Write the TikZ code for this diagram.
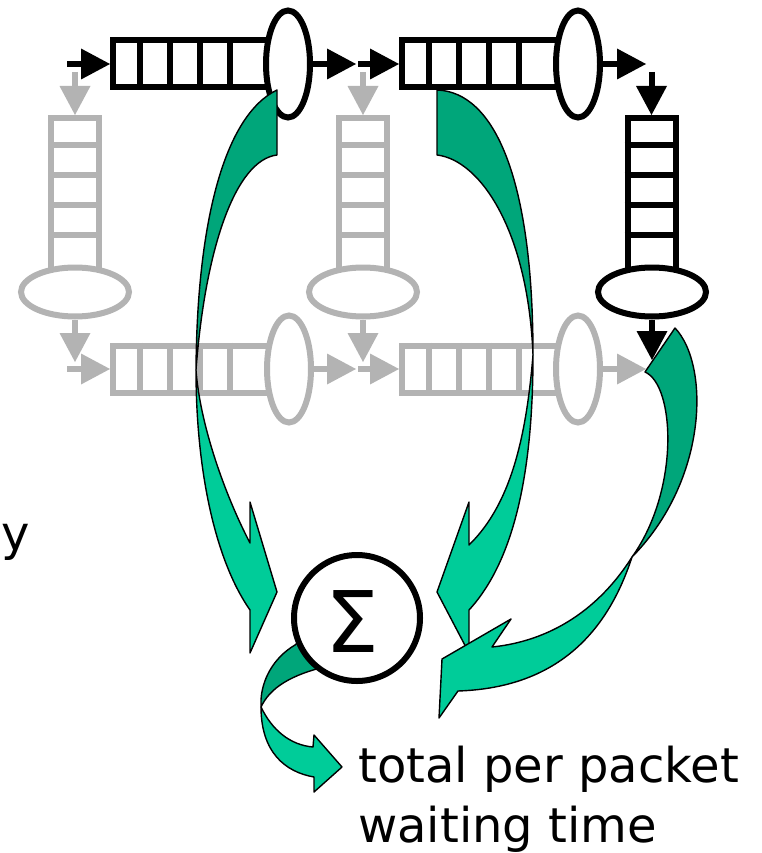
\documentclass[tikz,border=0pt]{standalone}
\usepackage{fontspec}
\setmainfont{DejaVu Sans}
\usetikzlibrary{arrows.meta,shapes.geometric}

\definecolor{qgray}{RGB}{179,179,179}
\definecolor{gdarkc}{RGB}{0,166,122}
\definecolor{glightc}{RGB}{0,204,153}

\tikzset{
  qbox/.style={draw, line width=6pt, inner sep=0pt, fill=white},
  hqueue/.style={qbox, minimum width=157pt, minimum height=47pt},
  vqueue/.style={qbox, minimum width=48pt, minimum height=157pt},
  hserver/.style={qbox, ellipse, minimum width=44pt, minimum height=107pt},
  vserver/.style={qbox, ellipse, minimum width=108pt, minimum height=49pt},
  flow/.style={line width=6pt, -{Triangle[length=29pt,width=31pt,line width=0pt]}},
  ribbon/.style={draw=black, line width=1.4pt, line join=round},
  gdark/.style={ribbon, fill=gdarkc},
  glight/.style={ribbon, fill=glightc},
  label/.style={inner sep=0pt, font=\fontsize{48}{60}\selectfont},
}

% cell dividers of a horizontal / vertical queue
\newcommand\hcells[2]{\foreach \i in {1,...,4}
  \draw[line width=6pt,#2] ([xshift=\i*30pt]#1.north west) -- ([xshift=\i*30pt]#1.south west);}
\newcommand\vcells[2]{\foreach \i in {1,...,4}
  \draw[line width=6pt,#2] ([yshift=-\i*30pt]#1.north west) -- ([yshift=-\i*30pt]#1.north east);}

\begin{document}
\begin{tikzpicture}[x=1pt,y=-1pt]
\useasboundingbox (0,0) rectangle (762,853);

% ---------- idle (gray) part of the network ----------
\begin{scope}[qgray]
  \node[vqueue, draw=qgray] (v1) at (75,196.5) {};
  \vcells{v1}{qgray}
  \node[vserver, draw=qgray] (ve1) at (75,292) {};
  \node[vqueue, draw=qgray] (v2) at (363,196.5) {};
  \vcells{v2}{qgray}
  \node[vserver, draw=qgray] (ve2) at (363,292) {};

  \node[hqueue, draw=qgray] (q3) at (191.5,369) {};
  \hcells{q3}{qgray}
  \node[hserver, draw=qgray] (e3) at (289,369) {};
  \node[hqueue, draw=qgray] (q4) at (480.5,369) {};
  \hcells{q4}{qgray}
  \node[hserver, draw=qgray] (e4) at (578,369) {};

  \coordinate (g1) at (75,72);
  \coordinate (g2) at (363,72);
  \coordinate (d1) at (75,362);
  \coordinate (d2) at (363,362);
  \coordinate (in3) at (67,369);
  \coordinate (out3) at (356,369);
  \coordinate (in4) at (358,369);
  \coordinate (out4) at (646,369);

  \draw[flow] (g1) -- (v1.north);
  \draw[flow] (g2) -- (v2.north);
  \draw[flow] (ve1.south) -- (d1);
  \draw[flow] (ve2.south) -- (d2);
  \draw[flow] (in3) -- (q3.west);
  \draw[flow] (e3.east) -- (out3);
  \draw[flow] (in4) -- (q4.west);
  \draw[flow] (e4.east) -- (out4);
\end{scope}

% ---------- path taken by the packet (black) ----------
\node[hqueue] (q1) at (191.5,64) {};
\hcells{q1}{black}
\node[hserver] (e1) at (288,64) {};
\node[hqueue] (q2) at (480.5,64) {};
\hcells{q2}{black}
\node[hserver] (e2) at (578,64) {};
\node[vqueue] (v3) at (651.5,196.5) {};
\vcells{v3}{black}
\node[vserver] (ve3) at (652,292) {};

\coordinate (in1) at (67,64);
\coordinate (out1) at (356,64);
\coordinate (in2) at (358,64);
\coordinate (out2) at (646,64);
\coordinate (b3) at (651.5,72);
\coordinate (d3) at (652,360);

\draw[flow] (in1) -- (q1.west);
\draw[flow] (e1.east) -- (out1);
\draw[flow] (in2) -- (q2.west);
\draw[flow] (e2.east) -- (out2);
\draw[flow] (b3) -- (v3.north);
\draw[flow] (ve3.south) -- (d3);

% ---------- waiting-time ribbons ----------
% from the first queue
\path[gdark] (277,90) -- (277,155)
  .. controls (235,160) and (205,250) .. (196,370)
  .. controls (197,220) and (225,115) .. (277,90) -- cycle;
\path[glight] (196,370)
  .. controls (200,425) and (225,495) .. (250,543)
  -- (250,502) -- (277,592) -- (250,653) -- (250,610)
  .. controls (215,560) and (196,470) .. (196,370) -- cycle;

% from the second queue
\path[gdark] (437,90) -- (437,155)
  .. controls (480,160) and (528,230) .. (533,355)
  .. controls (533,180) and (495,92) .. (437,90) -- cycle;
\path[glight] (533,355)
  .. controls (526,440) and (510,505) .. (469,545)
  -- (469,502) -- (437,592) -- (469,653) -- (469,610)
  .. controls (515,560) and (533,470) .. (533,355) -- cycle;

% from the third queue
\path[gdark] (645,372) -- (675,328)
  .. controls (710,365) and (708,480) .. (632,557)
  .. controls (680,490) and (675,385) .. (645,372) -- cycle;
\path[glight] (632,557)
  .. controls (605,600) and (560,640) .. (492,647)
  -- (511,619) -- (442,659) -- (439,718) -- (458,691)
  .. controls (550,688) and (605,640) .. (632,557) -- cycle;

% from the sum to the result
\path[gdark] (305,636) -- (295,645)
  .. controls (273,658) and (262,680) .. (261,700) -- (261,707)
  .. controls (270,688) and (290,675) .. (328,666) -- cycle;
\path[glight] (261,707)
  .. controls (272,730) and (290,745) .. (313,747)
  -- (314,735) -- (342,767) -- (314,792) -- (314,777)
  .. controls (285,772) and (261,752) .. (261,707) -- cycle;

% ---------- sum ----------
\node[circle, draw, line width=6pt, fill=white, minimum size=126pt, inner sep=0pt] (sum) at (357,618) {};
\node[inner sep=0pt, font=\fontsize{85}{85}\selectfont] (sigma) at (352,622) {Σ};

% ---------- texts ----------
\node[label, anchor=base west] (res1) at (358,782) {total per packet};
\node[label, anchor=base west] (res2) at (358,842) {waiting time};
\node[label, anchor=base west] (cut) at (1,550) {y};
\end{tikzpicture}
\end{document}
